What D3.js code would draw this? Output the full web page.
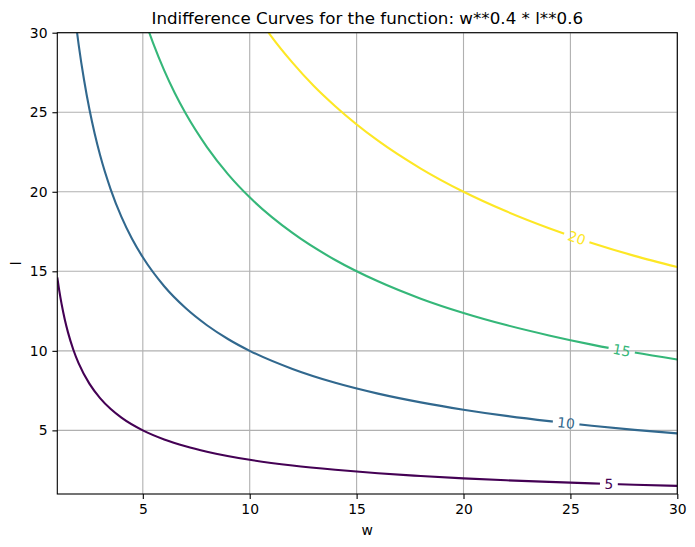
<!DOCTYPE html>
<html>
<head>
<meta charset="utf-8">
<script src="https://cdn.jsdelivr.net/npm/d3@7"></script>
<style>
  body { margin: 0; background: #fff; }
  svg { font-family: "DejaVu Sans", sans-serif; }
</style>
</head>
<body>
<div id="chart"></div>
<script>
// contour levels and their viridis colours
var levels = [5, 10, 15, 20];
var levelColors = ["#440154", "#31688e", "#35b779", "#fde725"];

// points (w, l)
var w5 = [1, 1.1, 1.2, 1.35, 1.5, 1.75, 2, 2.5, 3, 3.5, 4, 5, 6, 7, 8, 10, 12, 14, 16, 18, 20, 22, 24, 26, 28, 30];
var l5 = [14.62, 13.72, 12.95, 11.97, 11.16, 10.07, 9.21, 7.94, 7.03, 6.34, 5.80, 5.00, 4.43, 4.00, 3.66, 3.15, 2.79, 2.52, 2.30, 2.13, 1.98, 1.86, 1.76, 1.67, 1.58, 1.51];

var w10 = [1.9, 2, 2.25, 2.5, 2.75, 3, 3.5, 4, 4.5, 5, 6, 7, 8, 9, 10, 12, 14, 16, 18, 20, 22, 24, 26, 28, 30];
var l10 = [30.26, 29.24, 27.04, 25.20, 23.65, 22.31, 20.14, 18.42, 17.03, 15.88, 14.06, 12.69, 11.61, 10.73, 10.00, 8.86, 7.99, 7.31, 6.76, 6.30, 5.91, 5.58, 5.29, 5.03, 4.81];

var w15 = [5.25, 5.5, 6, 6.5, 7, 8, 9, 10, 12, 14, 16, 18, 20, 22, 24, 26, 28, 30];
var l15 = [30.20, 29.28, 27.63, 26.19, 24.93, 22.81, 21.08, 19.65, 17.41, 15.71, 14.37, 13.28, 12.38, 11.62, 10.97, 10.39, 9.89, 9.45];

var w20 = [10.8, 11, 12, 13, 14, 16, 18, 20, 22, 24, 26, 28, 30];
var l20 = [30.16, 29.79, 28.12, 26.65, 25.38, 23.21, 21.46, 20.00, 18.77, 17.71, 16.78, 15.97, 15.27];

// where the inline labels sit along w
var labelW = [26.8, 24.8, 27.4, 25.3];

var xTicks = [5, 10, 15, 20, 25, 30];
var yTicks = [5, 10, 15, 20, 25, 30];

var width = 695, height = 547;
var margin = {top: 32.7, right: 17.7, bottom: 53, left: 57.3};
var plotW = width - margin.left - margin.right,
    plotH = height - margin.top - margin.bottom;

var svg = d3.select("#chart").append("svg")
    .attr("width", width)
    .attr("height", height);

var x = d3.scaleLinear().domain([1, 30]).range([0, plotW]);
var y = d3.scaleLinear().domain([1, 30]).range([plotH, 0]);

var g = svg.append("g")
    .attr("transform", "translate(" + margin.left + "," + margin.top + ")");

var defs = svg.append("defs");
defs.append("clipPath").attr("id", "plotclip")
  .append("rect").attr("width", plotW).attr("height", plotH);

// grid
g.selectAll(".gx").data(xTicks).enter().append("line")
    .attr("x1", function(d) { return x(d); })
    .attr("x2", function(d) { return x(d); })
    .attr("y1", 0).attr("y2", plotH)
    .attr("stroke", "#b0b0b0").attr("stroke-width", 1.1);
g.selectAll(".gy").data(yTicks).enter().append("line")
    .attr("y1", function(d) { return y(d); })
    .attr("y2", function(d) { return y(d); })
    .attr("x1", 0).attr("x2", plotW)
    .attr("stroke", "#b0b0b0").attr("stroke-width", 1.1);

var curves = [
  {w: w5, l: l5},
  {w: w10, l: l10},
  {w: w15, l: l15},
  {w: w20, l: l20}
];

var line = d3.line()
    .x(function(d) { return x(d[0]); })
    .y(function(d) { return y(d[1]); })
    .curve(d3.curveMonotoneX);

var plot = g.append("g").attr("clip-path", "url(#plotclip)");

curves.forEach(function(c, i) {
  var pts = c.w.map(function(w, j) { return [w, c.l[j]]; });

  // label position and angle along the curve
  var lw = labelW[i];
  var j = d3.bisectLeft(c.w, lw);
  var t = (lw - c.w[j - 1]) / (c.w[j] - c.w[j - 1]);
  var ll = c.l[j - 1] + t * (c.l[j] - c.l[j - 1]);
  var px = x(lw), py = y(ll);
  var ang = Math.atan2(y(c.l[j]) - y(c.l[j - 1]), x(c.w[j]) - x(c.w[j - 1])) * 180 / Math.PI;

  var label = String(levels[i]);
  var gapW = label.length * 8.85 + 9;

  var mask = defs.append("mask").attr("id", "m" + i)
      .attr("maskUnits", "userSpaceOnUse")
      .attr("x", -20).attr("y", -20).attr("width", plotW + 40).attr("height", plotH + 40);
  mask.append("rect").attr("x", -20).attr("y", -20)
      .attr("width", plotW + 40).attr("height", plotH + 40).attr("fill", "white");
  mask.append("rect")
      .attr("x", -gapW / 2).attr("y", -9).attr("width", gapW).attr("height", 18)
      .attr("fill", "black")
      .attr("transform", "translate(" + px + "," + py + ") rotate(" + ang + ")");

  plot.append("path")
      .datum(pts)
      .attr("d", line)
      .attr("fill", "none")
      .attr("stroke", levelColors[i])
      .attr("stroke-width", 2.1)
      .attr("mask", "url(#m" + i + ")");

  g.append("text")
      .attr("transform", "translate(" + px + "," + py + ") rotate(" + ang + ")")
      .attr("text-anchor", "middle")
      .attr("dy", "0.36em")
      .attr("font-size", 13.9)
      .attr("fill", levelColors[i])
      .text(label);
});

// axes
var xAxis = d3.axisBottom(x).tickValues(xTicks).tickSize(4.9).tickPadding(4.9);
var yAxis = d3.axisLeft(y).tickValues(yTicks).tickSize(4.9).tickPadding(4.9);

var gx = g.append("g").attr("transform", "translate(0," + plotH + ")").call(xAxis);
var gy = g.append("g").call(yAxis);
[gx, gy].forEach(function(a) {
  a.select(".domain").remove();
  a.selectAll("line").attr("stroke", "#000").attr("stroke-width", 1.1);
  a.selectAll("text").attr("font-size", 13.9).attr("fill", "#000")
      .attr("font-family", "DejaVu Sans");
});

// frame
g.append("rect")
    .attr("width", plotW).attr("height", plotH)
    .attr("fill", "none").attr("stroke", "#000").attr("stroke-width", 1.1);

svg.append("text")
    .attr("x", margin.left + plotW / 2).attr("y", 24.4)
    .attr("text-anchor", "middle").attr("font-size", 16.7)
    .text("Indifference Curves for the function: w**0.4 * l**0.6");

svg.append("text")
    .attr("x", margin.left + plotW / 2).attr("y", 535)
    .attr("text-anchor", "middle").attr("font-size", 13.9)
    .text("w");

svg.append("text")
    .attr("transform", "translate(21," + (margin.top + plotH / 2) + ") rotate(-90)")
    .attr("text-anchor", "middle").attr("font-size", 13.9)
    .text("l");
</script>
</body>
</html>
